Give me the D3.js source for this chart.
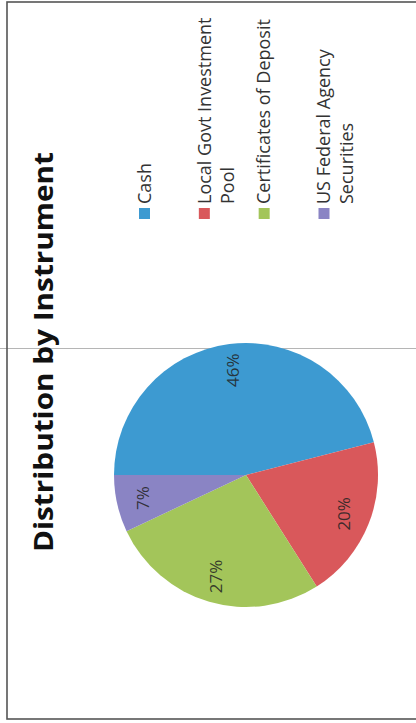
<!DOCTYPE html>
<html>
<head>
<meta charset="utf-8">
<title>Distribution by Instrument</title>
<script src="https://d3js.org/d3.v7.min.js"></script>
<style>
  body { margin:0; background:#fff; font-family:"Open Sans", "Noto Sans", sans-serif; }
  svg { display:block; }
</style>
</head>
<body>
<script>
// data
var categories = ["Cash", "Local Govt Investment Pool", "Certificates of Deposit", "US Federal Agency Securities"];
var legendLines = [["Cash"], ["Local Govt Investment", "Pool"], ["Certificates of Deposit"], ["US Federal Agency", "Securities"]];
var values = [46, 20, 27, 7];
var colors = ["#3d9ad1", "#d9585b", "#a3c55a", "#8a84c4"];
var title = "Distribution by Instrument";

var W = 416, H = 723;
var svg = d3.select("body").append("svg").attr("width", W).attr("height", H);

// the scanned page is turned on its side: draw in chart frame then rotate
var g = svg.append("g").attr("transform", "translate(0," + H + ") rotate(-90)");
var CW = H, CH = W; // chart frame width/height

// fold line of the scan
g.append("line")
  .attr("x1", 374.5).attr("x2", 374.5)
  .attr("y1", -10).attr("y2", CH + 10)
  .attr("stroke", "#b5b5b5").attr("stroke-width", 1);

// frame
g.append("rect")
  .attr("x", 4).attr("y", 7).attr("width", 717).attr("height", 430)
  .attr("fill", "none").attr("stroke", "#555").attr("stroke-width", 1.6);

// title
g.append("text")
  .attr("x", 371).attr("y", 53)
  .attr("text-anchor", "middle")
  .attr("font-size", 27).attr("font-weight", "bold")
  .attr("fill", "#111")
  .attr("textLength", 400).attr("lengthAdjust", "spacingAndGlyphs")
  .text(title);

// pie
var r = 132;
var pie = d3.pie().sort(null).value(function(d){ return d; });
var arc = d3.arc().innerRadius(0).outerRadius(r);
var labelArc = d3.arc().innerRadius(r * 0.6).outerRadius(r);
var color = d3.scaleOrdinal().domain(categories).range(colors);
var arcs = pie(values);

var pg = g.append("g").attr("transform", "translate(248,246)");
pg.selectAll("path")
  .data(arcs)
  .enter().append("path")
  .attr("d", arc)
  .attr("fill", function(d, i){ return color(categories[i]); });

pg.selectAll("text")
  .data(arcs)
  .enter().append("text")
  .attr("transform", function(d){ return "translate(" + labelArc.centroid(d) + ")"; })
  .attr("text-anchor", "middle")
  .attr("dy", "0.35em")
  .attr("font-size", 17)
  .attr("fill", "#222").attr("fill-opacity", 0.85)
  .text(function(d){ return d3.format(".0%")(d.data / d3.sum(values)); });

// legend
var ly = d3.scalePoint().domain(categories).range([144.5, 324]);
var lg = g.append("g");
var item = lg.selectAll("g")
  .data(categories)
  .enter().append("g")
  .attr("transform", function(d){ return "translate(504," + ly(d) + ")"; });
item.append("rect")
  .attr("x", 0).attr("y", -5.5).attr("width", 11).attr("height", 11)
  .attr("fill", function(d){ return color(d); });
item.each(function(d, i){
  var t = d3.select(this).append("text")
    .attr("font-size", 18).attr("fill", "#333");
  legendLines[i].forEach(function(line, j){
    t.append("tspan").attr("x", 15).attr("y", j * 23).attr("dy", "0.35em").text(line);
  });
});
</script>
</body>
</html>
